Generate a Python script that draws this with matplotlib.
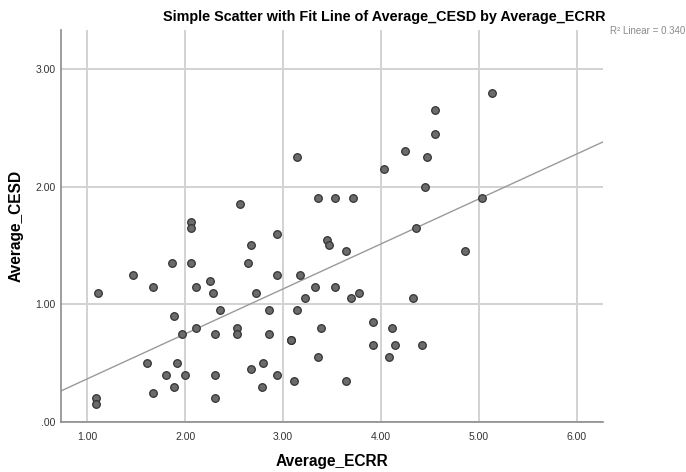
import numpy as np
import matplotlib
matplotlib.use("Agg")
import matplotlib.pyplot as plt

plt.rcParams['font.family'] = ['Liberation Sans', 'DejaVu Sans']

ecrr = [2.06, 2.06, 2.94, 2.67, 3.45, 3.47, 1.86, 2.06, 2.64, 1.47,
        2.94, 3.17, 1.67, 2.11, 3.33, 3.53, 1.11, 2.25, 2.28, 2.72,
        3.22, 2.36, 2.86, 3.14, 1.89, 2.11, 2.53, 2.53, 3.39, 1.97,
        2.30, 2.86, 3.08, 3.08, 3.36, 1.61, 1.92, 2.80, 2.67, 1.80,
        2.00, 2.30, 2.94, 3.11, 1.89, 2.78, 1.67, 1.09, 1.09, 2.30,
        4.36, 3.64, 4.86, 3.69, 3.78, 4.33, 3.92, 4.11, 3.92, 4.14,
        4.42, 4.08, 3.64, 5.14, 4.55, 4.55, 4.25, 4.47, 4.03, 4.45,
        3.36, 3.53, 3.72, 5.03, 3.14, 2.56]
cesd = [1.70, 1.65, 1.60, 1.50, 1.55, 1.50, 1.35, 1.35, 1.35, 1.25,
        1.25, 1.25, 1.15, 1.15, 1.15, 1.15, 1.10, 1.20, 1.10, 1.10,
        1.05, 0.95, 0.95, 0.95, 0.90, 0.80, 0.80, 0.75, 0.80, 0.75,
        0.75, 0.75, 0.70, 0.70, 0.55, 0.50, 0.50, 0.50, 0.45, 0.40,
        0.40, 0.40, 0.40, 0.35, 0.30, 0.30, 0.25, 0.20, 0.15, 0.20,
        1.65, 1.45, 1.45, 1.05, 1.10, 1.05, 0.85, 0.80, 0.65, 0.65,
        0.65, 0.55, 0.35, 2.80, 2.65, 2.45, 2.30, 2.25, 2.15, 2.00,
        1.90, 1.90, 1.90, 1.90, 2.25, 1.85]

# fit line as shown in the reference
fit_intercept = -0.015
fit_slope = 0.382

x_ticks = [1, 2, 3, 4, 5, 6]
x_tick_labels = ["1.00", "2.00", "3.00", "4.00", "5.00", "6.00"]
y_ticks = [0, 1, 2, 3]
y_tick_labels = [".00", "1.00", "2.00", "3.00"]
r2_label = "R\u00b2 Linear = 0.340"

fig = plt.figure(figsize=(6.86, 4.72), dpi=100)
ax = fig.add_axes([0.0889, 0.106, 0.790, 0.830])

xlim = (0.73, 6.27)
ylim = (0.0, 3.33)
ax.set_xlim(*xlim)
ax.set_ylim(*ylim)

ax.set_xticks(x_ticks)
ax.set_xticklabels(x_tick_labels)
ax.set_yticks(y_ticks)
ax.set_yticklabels(y_tick_labels)
ax.grid(True, color='#d2d2d2', linewidth=1.4, zorder=0)
ax.set_axisbelow(True)

for s in ['top', 'right']:
    ax.spines[s].set_visible(False)
for s in ['left', 'bottom']:
    ax.spines[s].set_color('#8c8c8c')
    ax.spines[s].set_linewidth(1.2)

ax.tick_params(axis='both', which='both', length=0, labelsize=7.5,
               labelcolor='#333333')
ax.tick_params(axis='y', pad=4)
ax.tick_params(axis='x', pad=7)

x = np.array(ecrr)
y = np.array(cesd)
xs = np.array(xlim)
ax.plot(xs, fit_intercept + fit_slope * xs, color='#9a9a9a', linewidth=1.0, zorder=2)

ax.scatter(x, y, s=30, facecolor='#6b6b6b', edgecolor='#333333',
           linewidth=0.9, zorder=3)

ax.set_xlabel("Average_ECRR", fontsize=11.2, fontweight='bold', labelpad=9)
ax.set_ylabel("Average_CESD", fontsize=11.2, fontweight='bold', labelpad=8)

fig.text(0.56, 0.963, "Simple Scatter with Fit Line of Average_CESD by Average_ECRR",
         ha='center', va='center', fontsize=10.4, fontweight='bold')
fig.text(0.889, 0.934, r2_label, ha='left', va='center', fontsize=7,
         color='#8a8a8a')

fig.savefig("out.png", dpi=100)
